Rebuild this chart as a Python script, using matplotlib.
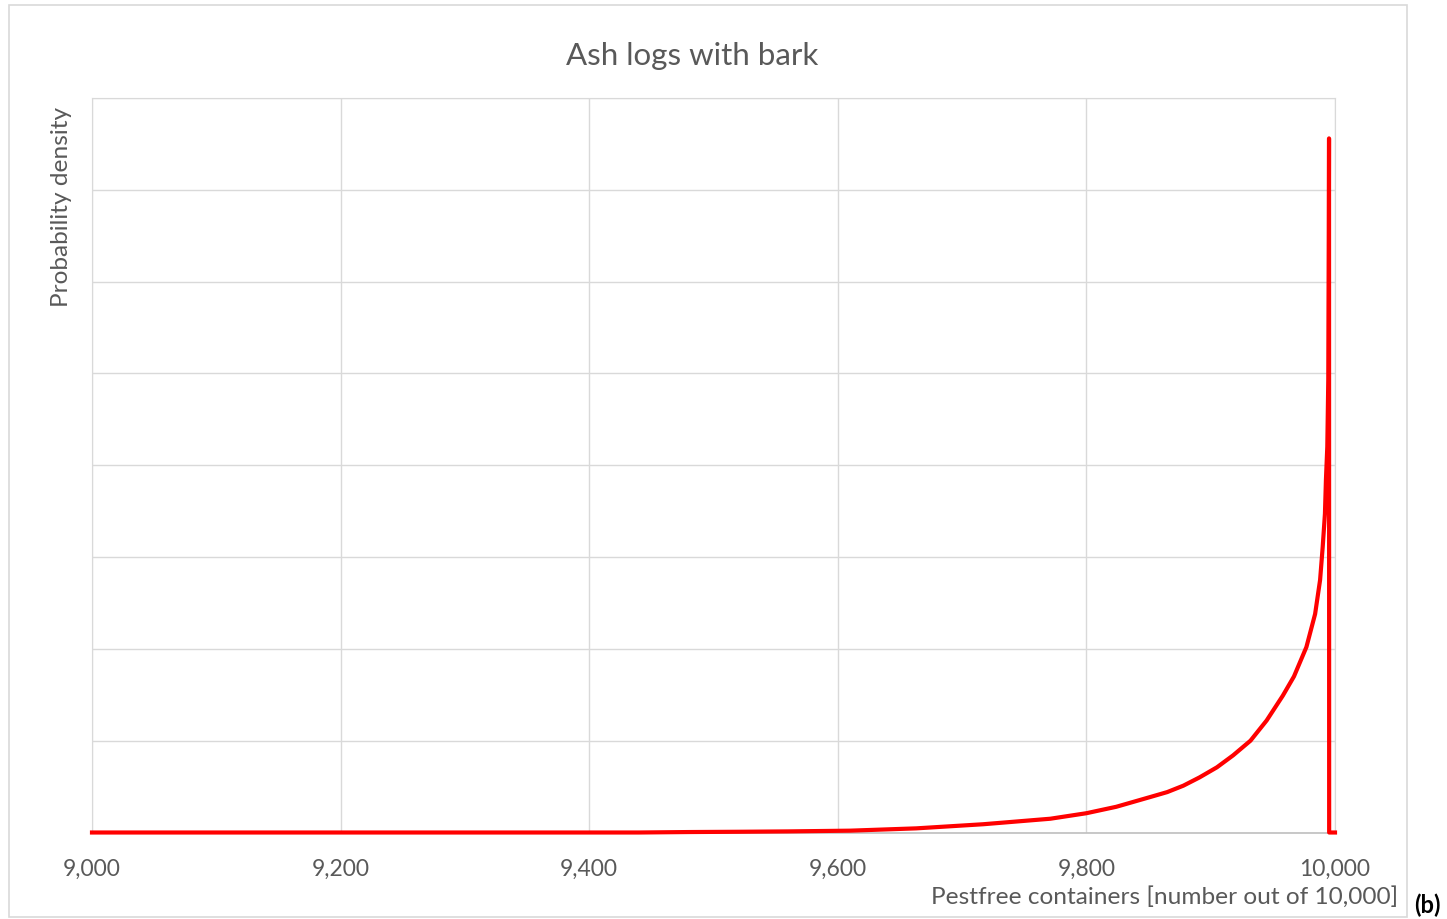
import matplotlib
matplotlib.use("Agg")
import matplotlib.pyplot as plt
import matplotlib.ticker as mticker
from matplotlib.patches import Rectangle

# Density curve (arbitrary density units, 8 gridline steps)
pestfree = [9000, 9440, 9480, 9520, 9560, 9610, 9663, 9717, 9771, 9800, 9824,
            9851, 9865, 9878, 9891, 9905, 9918, 9932, 9945, 9958, 9967, 9977,
            9984, 9988, 9990.1, 9991.9, 9992.7, 9993.8, 9994.6, 9995.0, 9995.2,
            9995.3, 10000]
density = [0, 0, 0.005, 0.008, 0.012, 0.02, 0.045, 0.09, 0.15, 0.21, 0.28,
           0.385, 0.44, 0.51, 0.60, 0.71, 0.84, 1.00, 1.22, 1.49, 1.70, 2.02,
           2.38, 2.75, 3.11, 3.47, 3.84, 4.20, 4.93, 6.5, 7.56,
           0, 0]

x_ticks = [9000, 9200, 9400, 9600, 9800, 10000]

TEXT_GREY = "#595959"
GRID_GREY = "#d9d9d9"
FONT = ["Lato", "DejaVu Sans"]

plt.rcParams['font.family'] = FONT

fig = plt.figure(figsize=(14.47, 9.19), dpi=100)
fig.patches.append(Rectangle((9 / 1447, 1 - 917 / 919), 1398 / 1447, 912 / 919,
                             transform=fig.transFigure, fill=False,
                             edgecolor=GRID_GREY, lw=1.2))

ax = fig.add_axes([92 / 1447, 1 - 832.5 / 919, 1243 / 1447, 734.5 / 919])
ax.plot(pestfree, density, color="#ff0000", lw=3, clip_on=False, zorder=3,
        solid_joinstyle="round")

ax.set_xlim(9000, 10000)
ax.set_ylim(0, 8)
ax.set_xticks(x_ticks)
ax.xaxis.set_major_formatter(mticker.FuncFormatter(lambda v, p: f"{int(v):,}"))
ax.set_yticks(range(0, 9))
ax.set_yticklabels([])
ax.tick_params(axis="both", length=0)
ax.tick_params(axis="x", pad=19, labelsize=16.5, labelcolor=TEXT_GREY)
ax.grid(True, color=GRID_GREY, lw=1)
ax.set_axisbelow(True)
for side in ["left", "right", "top"]:
    ax.spines[side].set_color(GRID_GREY)
ax.spines["bottom"].set_color("#bfbfbf")
ax.spines["bottom"].set_linewidth(1.2)

fig.text(692 / 1447, 1 - 56 / 919, "Ash logs with bark", ha="center", va="center",
         fontsize=22.5, color=TEXT_GREY)
fig.text(61 / 1447, 1 - 207 / 919, "Probability density", ha="center", va="center",
         rotation=90, fontsize=17.6, color=TEXT_GREY)
fig.text(1398 / 1447, 1 - 897 / 919, "Pestfree containers [number out of 10,000]",
         ha="right", va="center", fontsize=17.6, color=TEXT_GREY)
fig.text(1427 / 1447, 1 - 905 / 919, "(b)", ha="center", va="center",
         fontsize=17, fontweight="bold", color="black")

fig.savefig("out.png", dpi=100)
